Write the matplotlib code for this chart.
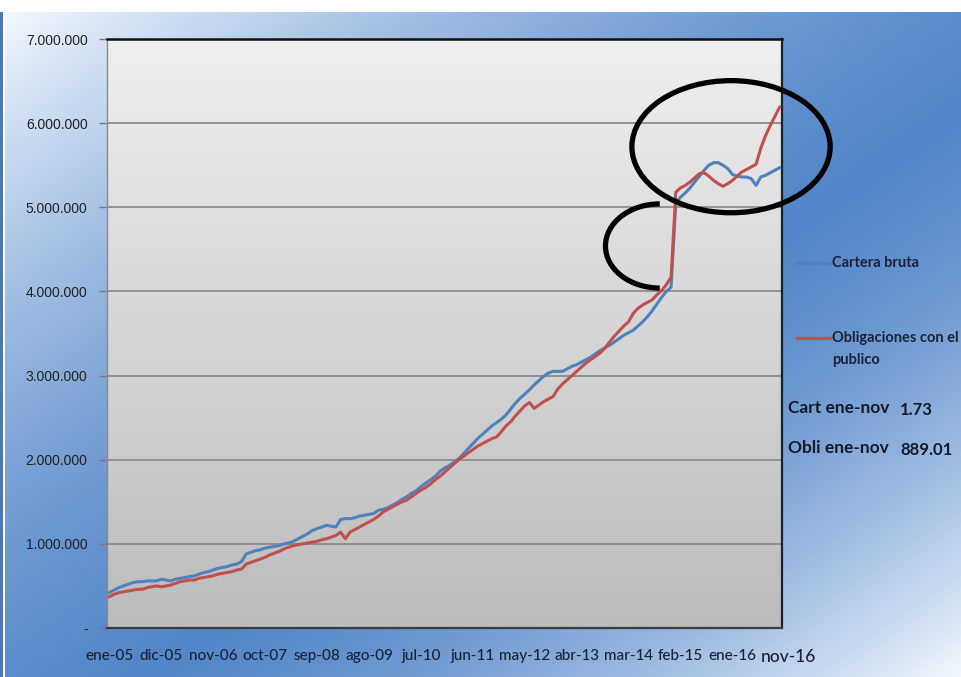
import numpy as np
import matplotlib.pyplot as plt
from matplotlib.patches import Ellipse, Arc, Rectangle
from matplotlib.lines import Line2D
from matplotlib.colors import LinearSegmentedColormap
from matplotlib.ticker import FuncFormatter
import matplotlib.transforms as mtransforms

# datos mensuales ene-05 .. nov-16 (millones)
meses = ['ene', 'feb', 'mar', 'abr', 'may', 'jun', 'jul', 'ago', 'sep', 'oct', 'nov', 'dic']

cartera = [
    0.42, 0.45, 0.48, 0.50, 0.52, 0.54, 0.55, 0.55, 0.56, 0.56, 0.56, 0.58,
    0.57, 0.56, 0.58, 0.59, 0.60, 0.61, 0.62, 0.64, 0.66, 0.67, 0.69, 0.71,
    0.72, 0.73, 0.75, 0.76, 0.79, 0.88, 0.90, 0.92, 0.93, 0.95, 0.96, 0.97,
    0.98, 1.00, 1.01, 1.03, 1.06, 1.09, 1.12, 1.16, 1.18, 1.20, 1.22, 1.21,
    1.20, 1.29, 1.30, 1.30, 1.31, 1.33, 1.34, 1.35, 1.36, 1.40, 1.41, 1.43,
    1.46, 1.49, 1.53, 1.56, 1.60, 1.63, 1.68, 1.72, 1.76, 1.80, 1.86, 1.90,
    1.93, 1.97, 2.01, 2.07, 2.13, 2.19, 2.25, 2.30, 2.35, 2.40, 2.44, 2.48,
    2.53, 2.60, 2.67, 2.73, 2.78, 2.83, 2.89, 2.94, 2.99, 3.03, 3.05, 3.05,
    3.05, 3.08, 3.11, 3.13, 3.16, 3.19, 3.22, 3.26, 3.30, 3.33, 3.36, 3.40,
    3.44, 3.48, 3.51, 3.54, 3.59, 3.64, 3.70, 3.77, 3.85, 3.93, 4.00, 4.05,
    5.05, 5.12, 5.17, 5.23, 5.30, 5.37, 5.44, 5.50, 5.53, 5.53, 5.50, 5.46,
    5.39, 5.37, 5.36, 5.36, 5.34, 5.26, 5.36, 5.38, 5.41, 5.44, 5.47,
]

obligaciones = [
    0.37, 0.40, 0.42, 0.43, 0.44, 0.45, 0.46, 0.46, 0.48, 0.49, 0.50, 0.49,
    0.50, 0.51, 0.53, 0.55, 0.56, 0.57, 0.57, 0.59, 0.60, 0.61, 0.62, 0.64,
    0.65, 0.66, 0.67, 0.69, 0.70, 0.76, 0.78, 0.80, 0.82, 0.84, 0.87, 0.89,
    0.91, 0.94, 0.96, 0.98, 0.99, 1.00, 1.01, 1.02, 1.03, 1.05, 1.06, 1.08,
    1.10, 1.14, 1.06, 1.14, 1.17, 1.20, 1.23, 1.26, 1.29, 1.33, 1.38, 1.41,
    1.44, 1.47, 1.50, 1.52, 1.56, 1.60, 1.64, 1.67, 1.71, 1.76, 1.80, 1.85,
    1.90, 1.95, 2.00, 2.04, 2.08, 2.12, 2.16, 2.19, 2.22, 2.25, 2.27, 2.33,
    2.40, 2.45, 2.52, 2.58, 2.64, 2.68, 2.61, 2.65, 2.69, 2.72, 2.75, 2.84,
    2.90, 2.95, 3.00, 3.05, 3.10, 3.15, 3.19, 3.23, 3.27, 3.33, 3.40, 3.47,
    3.53, 3.59, 3.64, 3.74, 3.80, 3.84, 3.87, 3.90, 3.96, 4.01, 4.08, 4.17,
    5.18, 5.23, 5.26, 5.30, 5.35, 5.40, 5.41, 5.37, 5.32, 5.28, 5.25, 5.28,
    5.32, 5.37, 5.42, 5.45, 5.48, 5.51, 5.70, 5.85, 5.97, 6.08, 6.19,
]

series_names = ['Cartera bruta', 'Obligaciones con el\npublico']
notas = [('Cart ene-nov', '1.73'), ('Obli ene-nov', '889.01')]

n = len(cartera)
etiquetas = [f"{meses[i % 12]}-{5 + i // 12:02d}" for i in range(n)]
x = np.arange(n)
cart = np.array(cartera) * 1e6
obli = np.array(obligaciones) * 1e6

W, H = 961, 677
fig = plt.figure(figsize=(W / 100, H / 100), dpi=100, facecolor='white')

# fondo degradado azul (claro arriba-izq y abajo-der)
bg = fig.add_axes([5 / W, 0, 1 - 5 / W, 1 - 12 / H])
yy, xx = np.mgrid[0:1:300j, 0:1:400j]
s = xx + yy
c = 1.15
t = np.where(s < c, (c - s) / c, (s - c) / (2 - c)) ** 1.5
light = np.array([0.95, 0.97, 0.995])
dark = np.array([0.33, 0.53, 0.79])
img = dark + (light - dark) * t[..., None]
bg.imshow(img, aspect='auto', extent=[0, 1, 0, 1])
bg.set_axis_off()
fig.add_artist(Rectangle((0, 0), 2.5 / W, 1 - 12 / H, transform=fig.transFigure,
                         color='#4a78b5', lw=0))

fnarrow = ['Lato', 'DejaVu Sans']
txtcol = '#1c2236'

ax = fig.add_axes([107 / W, (H - 628) / H, (782 - 107) / W, (628 - 39) / H])
grad = LinearSegmentedColormap.from_list('g', ['#efefef', '#bcbcbc'])
ax.imshow(np.linspace(0, 1, 256).reshape(-1, 1), cmap=grad, aspect='auto',
          extent=[-0.5, n - 0.5, 0, 7e6], zorder=0)

ax.plot(x, cart, color='#4F81BD', lw=2.2, zorder=3, solid_joinstyle='round')
ax.plot(x, obli, color='#C0504D', lw=2.2, zorder=4, solid_joinstyle='round')

ax.set_xlim(-0.5, n - 0.5)
ax.set_ylim(0, 7e6)
ax.set_yticks(np.arange(0, 7.5e6, 1e6))
ax.yaxis.set_major_formatter(FuncFormatter(
    lambda v, p: '-' if v == 0 else f"{v:,.0f}".replace(',', '.')))
ax.yaxis.grid(True, color='#8c8c8c', lw=1.3)
ax.set_axisbelow(True)
ax.tick_params(axis='y', length=6, width=1, color='#7a7a7a', pad=8,
               labelsize=10, labelcolor='#222222')
for lb in ax.get_yticklabels():
    lb.set_family(['Liberation Sans', 'DejaVu Sans'])

xt = list(range(0, n - 10, 11)) + [n - 1]
ax.set_xticks(xt)
ax.set_xticklabels([etiquetas[i] for i in xt])
ax.tick_params(axis='x', length=0, pad=15, labelcolor=txtcol)
xl = ax.get_xticklabels()
for lb in xl:
    lb.set_family(fnarrow)
    lb.set_fontsize(11)
    lb.set_weight('medium')
xl[-1].set_fontsize(12.5)
xl[-1].set_transform(xl[-1].get_transform() +
                     mtransforms.ScaledTranslation(0.09, 0, fig.dpi_scale_trans))

ax.spines['top'].set_color('#101010')
ax.spines['top'].set_linewidth(1.8)
ax.spines['right'].set_color('#202020')
ax.spines['right'].set_linewidth(1.6)
ax.spines['bottom'].set_color('#3c3c3c')
ax.spines['bottom'].set_linewidth(1.6)
ax.spines['left'].set_color('#8a8a8a')
ax.spines['left'].set_linewidth(1.0)

# marcas a mano alzada
ax.add_patch(Ellipse((131.7, 5.72e6), 42, 1.57e6, fill=False, ec='black',
                     lw=3.8, zorder=6, clip_on=False))
ax.add_patch(Arc((116.6, 4.54e6), 23, 1.0e6, theta1=90, theta2=270,
                 ec='black', lw=3.8, zorder=6, clip_on=False))

# leyenda
def fx(px):
    return px / W

def fy(py):
    return 1 - py / H

fig.add_artist(Line2D([fx(797), fx(830)], [fy(263), fy(263)], color='#4F81BD', lw=2.3))
fig.add_artist(Line2D([fx(797), fx(830)], [fy(338), fy(338)], color='#C0504D', lw=2.3))
fig.text(fx(832), fy(263), series_names[0], family=fnarrow, weight='bold',
         fontsize=10.5, color=txtcol, va='center')
fig.text(fx(832), fy(338), series_names[1].split('\n')[0], family=fnarrow,
         weight='bold', fontsize=10.5, color=txtcol, va='center')
fig.text(fx(832), fy(360), series_names[1].split('\n')[1], family=fnarrow,
         weight='bold', fontsize=10.5, color=txtcol, va='center')

for (lab, val), py in zip(notas, [408, 448]):
    fig.text(fx(788), fy(py), lab, family=fnarrow, weight='bold', fontsize=12.5,
             color='#151a2a', va='center')
    fig.text(fx(900), fy(py + 2), val, family=fnarrow, weight='bold', fontsize=12,
             color='#151a2a', va='center')

fig.savefig('out.png', dpi=100, facecolor=fig.get_facecolor())
